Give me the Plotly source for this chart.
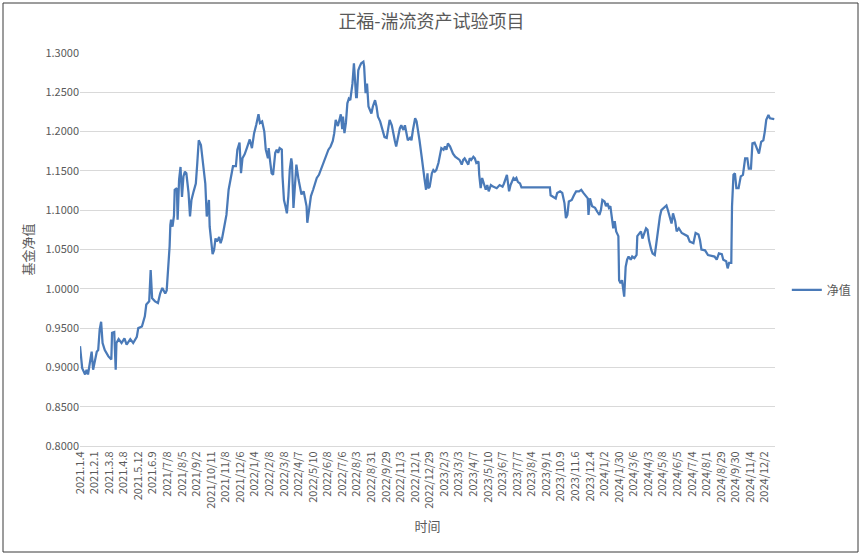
import plotly.graph_objects as go

# ---- data (trading-day index, NAV) ----
day = [0, 3, 7, 9, 11, 14, 16, 18, 21, 23, 25, 27, 29, 31, 34, 39, 43, 44, 47, 49,
       50, 53, 57, 61, 64, 69, 73, 78, 80, 85, 89, 91, 95, 97, 99, 103, 107, 110, 113, 117,
       119, 121, 123, 124, 125, 127, 129, 130, 133, 134, 136, 138, 140, 142, 144, 146, 149, 151, 153, 156,
       159, 161, 163, 166, 168, 171, 172, 174, 177, 178, 180, 182, 184, 186, 188, 191, 193, 195, 198, 201,
       204, 207, 210, 214, 216, 219, 221, 223, 226, 229, 231, 233, 236, 239, 242, 245, 247, 250, 253, 255,
       258, 259, 261, 263, 265, 268, 270, 272, 274, 277, 278, 280, 282, 284, 286, 288, 290, 291, 293, 295,
       297, 300, 302, 304, 307, 309, 311, 312, 314, 317, 320, 322, 325, 328, 331, 334, 337, 341, 344, 347,
       349, 351, 354, 356, 358, 360, 361, 363, 365, 367, 369, 371, 374, 376, 377, 379, 380, 382, 384, 386,
       389, 390, 392, 394, 396, 398, 400, 402, 405, 407, 409, 412, 414, 416, 418, 421, 423, 425, 428, 430,
       432, 434, 437, 439, 441, 444, 446, 448, 450, 453, 455, 457, 460, 462, 464, 466, 469, 471, 473, 475,
       477, 478, 480, 483, 485, 487, 489, 492, 494, 496, 499, 501, 503, 505, 508, 510, 512, 515, 518, 521,
       524, 526, 528, 531, 533, 535, 537, 540, 542, 544, 547, 548, 550, 552, 554, 557, 559, 561, 564, 567,
       572, 576, 580, 582, 586, 588, 589, 591, 595, 597, 599, 601, 604, 606, 645, 646, 650, 653, 655, 659,
       662, 665, 667, 669, 671, 675, 678, 681, 685, 688, 691, 694, 697, 698, 700, 703, 707, 710, 713, 715,
       717, 720, 722, 724, 726, 728, 730, 732, 734, 736, 739, 740, 742, 744, 747, 749, 751, 753, 756, 758,
       761, 764, 765, 768, 770, 772, 774, 777, 779, 781, 784, 786, 789, 791, 794, 796, 798, 801, 803, 805,
       807, 810, 812, 814, 817, 819, 822, 826, 830, 834, 837, 842, 845, 849, 851, 853, 858, 862, 867, 871,
       874, 877, 881, 883, 887, 889, 891, 894, 895, 897, 899, 901, 904, 907, 910, 913, 916, 918, 921, 923,
       926, 929, 932, 935, 938, 940, 942, 945, 947, 953]

nav = [0.927, 0.899, 0.891, 0.897, 0.891, 0.910, 0.920, 0.897, 0.912, 0.920, 0.922, 0.948, 0.958, 0.931, 0.922, 0.914, 0.910, 0.944, 0.945, 0.897,
       0.931, 0.936, 0.931, 0.937, 0.929, 0.936, 0.931, 0.939, 0.950, 0.952, 0.965, 0.980, 0.984, 1.024, 0.988, 0.984, 0.982, 0.994, 1.001, 0.994,
       0.998, 1.024, 1.054, 1.081, 1.088, 1.079, 1.093, 1.126, 1.128, 1.088, 1.139, 1.155, 1.117, 1.143, 1.149, 1.147, 1.122, 1.092, 1.113, 1.124,
       1.134, 1.160, 1.189, 1.183, 1.168, 1.143, 1.134, 1.092, 1.113, 1.079, 1.062, 1.044, 1.049, 1.064, 1.060, 1.066, 1.058, 1.064, 1.079, 1.094,
       1.126, 1.143, 1.156, 1.156, 1.177, 1.186, 1.147, 1.166, 1.171, 1.179, 1.186, 1.190, 1.179, 1.198, 1.209, 1.222, 1.211, 1.213, 1.200, 1.177,
       1.166, 1.179, 1.162, 1.147, 1.145, 1.173, 1.177, 1.173, 1.179, 1.177, 1.143, 1.113, 1.105, 1.096, 1.118, 1.152, 1.166, 1.160, 1.103, 1.139,
       1.158, 1.139, 1.130, 1.120, 1.124, 1.113, 1.105, 1.084, 1.101, 1.118, 1.126, 1.132, 1.141, 1.145, 1.152, 1.160, 1.166, 1.177, 1.181, 1.188,
       1.198, 1.215, 1.207, 1.213, 1.222, 1.203, 1.219, 1.198, 1.211, 1.236, 1.242, 1.240, 1.261, 1.287, 1.270, 1.244, 1.244, 1.278, 1.283, 1.287,
       1.289, 1.283, 1.249, 1.261, 1.232, 1.228, 1.223, 1.232, 1.240, 1.232, 1.219, 1.213, 1.206, 1.198, 1.193, 1.192, 1.202, 1.215, 1.208, 1.196,
       1.189, 1.181, 1.196, 1.204, 1.208, 1.202, 1.208, 1.196, 1.189, 1.192, 1.189, 1.202, 1.217, 1.213, 1.202, 1.189, 1.168, 1.151, 1.139, 1.126,
       1.147, 1.128, 1.130, 1.147, 1.151, 1.149, 1.151, 1.160, 1.172, 1.179, 1.177, 1.181, 1.177, 1.185, 1.181, 1.175, 1.172, 1.168, 1.166, 1.164,
       1.158, 1.164, 1.166, 1.162, 1.158, 1.166, 1.164, 1.168, 1.166, 1.160, 1.162, 1.145, 1.128, 1.141, 1.134, 1.126, 1.132, 1.124, 1.132, 1.130,
       1.128, 1.132, 1.130, 1.134, 1.145, 1.134, 1.124, 1.132, 1.141, 1.139, 1.141, 1.136, 1.134, 1.129, 1.129, 1.119, 1.117, 1.115, 1.122, 1.124,
       1.122, 1.109, 1.090, 1.094, 1.111, 1.113, 1.119, 1.124, 1.124, 1.126, 1.122, 1.119, 1.115, 1.094, 1.115, 1.105, 1.103, 1.098, 1.094, 1.100,
       1.113, 1.111, 1.105, 1.109, 1.103, 1.105, 1.088, 1.077, 1.086, 1.073, 1.067, 1.011, 1.007, 1.011, 0.990, 1.028, 1.037, 1.041, 1.037, 1.041,
       1.039, 1.043, 1.067, 1.071, 1.073, 1.064, 1.069, 1.077, 1.075, 1.062, 1.050, 1.045, 1.043, 1.058, 1.079, 1.092, 1.100, 1.103, 1.105, 1.106,
       1.100, 1.088, 1.083, 1.096, 1.086, 1.073, 1.077, 1.071, 1.069, 1.067, 1.060, 1.058, 1.071, 1.069, 1.062, 1.050, 1.049, 1.043, 1.042, 1.041,
       1.037, 1.045, 1.044, 1.037, 1.035, 1.026, 1.033, 1.033, 1.105, 1.145, 1.147, 1.128, 1.128, 1.143, 1.145, 1.166, 1.166, 1.153, 1.153, 1.185,
       1.186, 1.179, 1.172, 1.187, 1.189, 1.200, 1.215, 1.221, 1.217, 1.216]

tick_day = list(range(0, 960, 20))
tick_labels = ["2021.1.4", "2021.2.1", "2021.3.8", "2021.4.8", "2021.5.12", "2021.6.9",
               "2021/7/8", "2021/8/5", "2021/9/2", "2021/10/11", "2021/11/8", "2021/12/6",
               "2022/1/4", "2022/2/8", "2022/3/8", "2022/4/7", "2022/5/10", "2022/6/8",
               "2022/7/6", "2022/8/3", "2022/8/31", "2022/9/29", "2022/11/3", "2022/12/1",
               "2022/12/29", "2023/2/3", "2023/3/3", "2023/4/7", "2023/5/10", "2023/6/7",
               "2023/7/7", "2023/8/4", "2023/9/1", "2023/10.9", "2023/11.6", "2023/12.4",
               "2024/1/2", "2024/1/30", "2024/3/6", "2024/4/3", "2024/5/8", "2024/6/5",
               "2024/7/4", "2024/8/1", "2024/8/29", "2024/9/30", "2024/11/4", "2024/12/2"]

FONT = "Noto Sans CJK SC, Liberation Sans, sans-serif"
GREY = "#595959"

fig = go.Figure()
fig.add_trace(go.Scatter(x=day, y=nav, mode="lines", name="净值",
                         line=dict(color="#4a7ab8", width=2.25)))

fig.update_layout(
    width=863, height=556,
    margin=dict(l=80, r=88, t=53, b=110, autoexpand=False),
    paper_bgcolor="white", plot_bgcolor="white",
    font=dict(family=FONT, color=GREY, size=11),
    title=dict(text="正福-湍流资产试验项目", x=0.5, xanchor="center",
               y=1 - 22 / 556, yanchor="middle",
               font=dict(size=18, color=GREY, family=FONT)),
    showlegend=True,
    legend=dict(x=1.017, xanchor="left", y=0.397, yanchor="middle",
                font=dict(size=12, color=GREY), bgcolor="rgba(0,0,0,0)"),
    shapes=[dict(type="rect", xref="paper", yref="paper",
                 x0=(3 - 80) / 695, x1=(858 - 80) / 695,
                 y0=(446 - 552) / 393, y1=(446 - 3) / 393,
                 line=dict(color="#3a3a3a", width=1), fillcolor="rgba(0,0,0,0)", layer="below")],
)

fig.update_xaxes(range=[0, 954], tickmode="array", tickvals=tick_day, ticktext=tick_labels,
                 tickangle=-90, showgrid=False, zeroline=False, automargin=False,
                 showline=True, linecolor="#D9D9D9", linewidth=1,
                 ticks="", tickfont=dict(size=11, color=GREY),
                 title=dict(text="时间", font=dict(size=13, color=GREY), standoff=14))
fig.update_yaxes(range=[0.8, 1.3], dtick=0.05, tick0=0.8, tickformat=".4f", automargin=False,
                 showgrid=True, gridcolor="#D9D9D9", gridwidth=1, zeroline=False,
                 showline=False, ticks="", tickfont=dict(size=11, color=GREY),
                 title=dict(text="基金净值", font=dict(size=13, color=GREY), standoff=8))

fig.write_html("out.html", config={"displayModeBar": False},
               post_script="document.body.style.margin='0';document.body.style.overflow='hidden';")
